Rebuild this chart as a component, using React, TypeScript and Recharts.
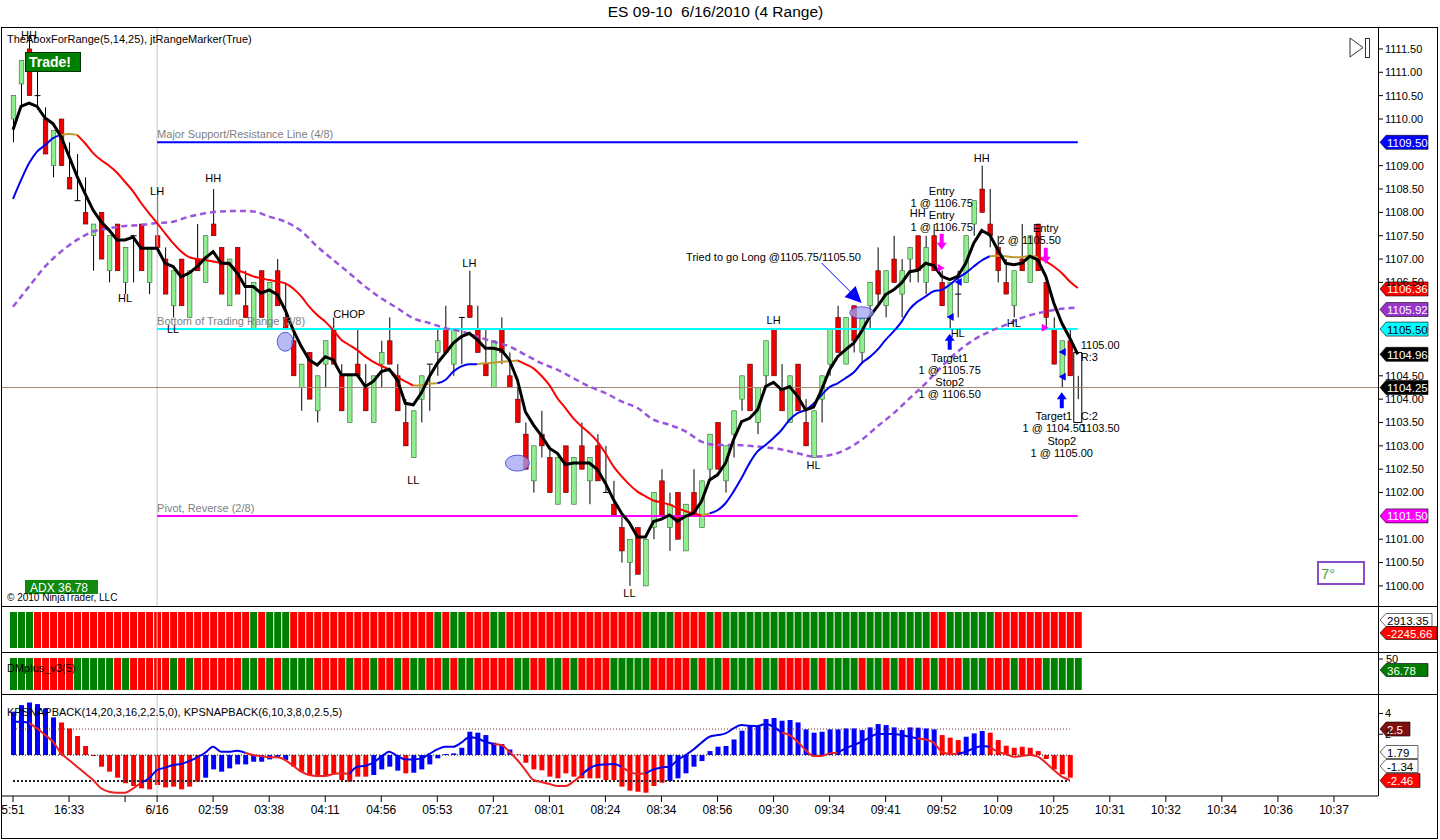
import React from "react";
import {
  ComposedChart,
  Bar,
  Line,
  XAxis,
  YAxis,
  ReferenceLine,
  ReferenceDot,
  ReferenceArea,
  Cell,
} from "recharts";

const FONT = '"Liberation Sans", Arial, sans-serif';
const CHART_W = 1438;
const FIRST_SLOT = -1;
const LAST_SLOT = 170;

// 4-range bars
const opens = [
  1110.0, 1110.75, 1111.5, 1110.5, 1110.0, 1109.0, 1110.0, 1108.75, 1108.25, 1108.0,
  1107.5, 1108.0, 1106.75, 1107.75, 1106.5, 1107.5, 1107.75, 1106.5, 1107.5, 1107.0,
  1106.0, 1107.0, 1105.75, 1107.0, 1106.5, 1107.75, 1107.25, 1106.0, 1107.25, 1106.0,
  1105.5, 1106.75, 1105.5, 1106.75, 1105.75, 1105.25, 1104.25, 1105.0, 1103.75, 1104.75,
  1105.5, 1104.5, 1103.5, 1104.75, 1104.25, 1103.5, 1104.75, 1105.25, 1104.5, 1103.5,
  1102.75, 1104.0, 1104.75, 1105.0, 1105.5, 1104.75, 1105.75, 1106.0, 1105.5, 1104.75,
  1104.25, 1105.5, 1104.5, 1104.0, 1103.25, 1102.25, 1103.25, 1102.75, 1101.75, 1103.0,
  1101.75, 1103.0, 1102.25, 1103.0, 1102.0, 1101.75, 1101.25, 1100.5, 1101.25, 1100.0,
  1101.25, 1102.25, 1101.25, 1102.0, 1100.75, 1102.0, 1101.25, 1102.5, 1103.5, 1102.25,
  1103.25, 1104.0, 1104.75, 1103.5, 1104.5, 1105.5, 1104.25, 1103.5, 1104.75, 1103.5,
  1102.75, 1104.0, 1104.75, 1105.75, 1104.75, 1106.0, 1105.0, 1106.0, 1106.75, 1106.0,
  1107.0, 1106.25, 1107.0, 1107.5, 1106.5, 1107.5, 1106.5, 1105.75, 1106.25, 1106.5,
  1107.75, 1108.5, 1107.75, 1107.25, 1106.5, 1106.0, 1107.0, 1106.5, 1107.75, 1106.5,
  1105.5, 1104.5, 1105.25, 1104.25,
];
const highs = [
  1110.5, 1111.25, 1111.75, 1111.25, 1110.25, 1109.75, 1110.0, 1109.5, 1109.25, 1108.75,
  1107.75, 1108.0, 1107.5, 1107.75, 1107.25, 1107.5, 1107.75, 1107.25, 1108.5, 1107.25,
  1106.75, 1107.0, 1106.75, 1107.75, 1107.5, 1108.5, 1107.25, 1107.0, 1107.25, 1106.75,
  1106.5, 1106.75, 1106.5, 1107.0, 1106.5, 1105.5, 1104.75, 1105.0, 1104.5, 1105.25,
  1105.75, 1104.75, 1104.5, 1105.5, 1104.75, 1104.5, 1105.25, 1105.75, 1104.75, 1104.0,
  1103.75, 1104.5, 1104.75, 1105.5, 1106.0, 1105.5, 1105.75, 1106.75, 1106.0, 1105.5,
  1105.25, 1105.75, 1105.0, 1104.25, 1103.5, 1103.0, 1103.75, 1103.0, 1102.75, 1103.0,
  1102.75, 1103.5, 1102.75, 1103.25, 1103.0, 1102.25, 1101.5, 1101.0, 1101.25, 1101.0,
  1102.0, 1102.5, 1102.0, 1102.0, 1101.75, 1102.5, 1102.25, 1103.25, 1103.5, 1103.0,
  1103.75, 1104.5, 1104.75, 1104.25, 1105.25, 1105.5, 1104.75, 1104.5, 1104.75, 1104.0,
  1103.75, 1104.5, 1105.5, 1106.0, 1105.75, 1106.0, 1105.75, 1106.5, 1107.25, 1106.75,
  1107.5, 1107.0, 1107.25, 1107.5, 1107.5, 1107.75, 1106.75, 1106.5, 1106.75, 1107.5,
  1108.25, 1109.0, 1108.5, 1107.5, 1107.0, 1106.75, 1107.75, 1107.5, 1107.75, 1106.5,
  1105.75, 1105.25, 1105.5, 1104.5,
];
const lows = [
  1109.5, 1110.25, 1110.5, 1110.25, 1109.25, 1108.75, 1109.0, 1108.5, 1108.25, 1107.75,
  1106.75, 1107.0, 1106.5, 1106.75, 1106.25, 1106.5, 1106.75, 1106.25, 1107.25, 1106.25,
  1105.75, 1106.0, 1105.75, 1106.75, 1106.5, 1107.5, 1106.25, 1106.0, 1106.25, 1105.75,
  1105.5, 1105.75, 1105.5, 1106.0, 1105.5, 1104.5, 1103.75, 1104.0, 1103.5, 1104.25,
  1104.75, 1103.75, 1103.5, 1104.5, 1103.75, 1103.5, 1104.25, 1104.75, 1103.75, 1103.0,
  1102.75, 1103.5, 1103.75, 1104.5, 1105.0, 1104.5, 1104.75, 1105.75, 1105.0, 1104.5,
  1104.25, 1104.75, 1104.25, 1103.5, 1102.5, 1102.0, 1102.75, 1102.0, 1101.75, 1102.0,
  1101.75, 1102.5, 1101.75, 1102.25, 1102.0, 1101.5, 1100.5, 1100.0, 1100.25, 1100.0,
  1101.0, 1101.5, 1100.75, 1101.0, 1100.75, 1101.5, 1101.25, 1102.25, 1102.5, 1102.0,
  1102.75, 1103.75, 1103.75, 1103.25, 1104.25, 1104.5, 1103.75, 1103.5, 1103.75, 1103.0,
  1102.75, 1103.5, 1104.5, 1105.0, 1104.75, 1105.0, 1104.75, 1105.5, 1106.0, 1105.75,
  1106.5, 1105.75, 1106.5, 1106.5, 1106.25, 1106.75, 1106.0, 1105.5, 1105.75, 1106.5,
  1107.5, 1108.0, 1107.25, 1106.5, 1106.25, 1105.75, 1106.75, 1106.5, 1106.75, 1105.5,
  1104.75, 1104.25, 1104.5, 1104.0,
];
const closes = [
  1110.5, 1111.25, 1110.5, 1110.5, 1109.25, 1109.75, 1109.0, 1108.5, 1108.25, 1107.75,
  1107.75, 1107.0, 1107.5, 1106.75, 1107.25, 1107.5, 1106.75, 1107.25, 1107.25, 1106.25,
  1106.75, 1106.0, 1106.75, 1106.75, 1107.5, 1107.5, 1106.25, 1107.0, 1106.25, 1105.75,
  1106.5, 1105.75, 1106.5, 1106.0, 1105.5, 1104.5, 1104.75, 1104.0, 1104.5, 1105.25,
  1104.75, 1103.75, 1104.5, 1104.5, 1103.75, 1104.5, 1105.0, 1104.75, 1103.75, 1103.0,
  1103.75, 1104.5, 1104.75, 1105.25, 1105.0, 1105.5, 1105.75, 1105.75, 1105.0, 1104.5,
  1105.25, 1105.0, 1104.25, 1103.5, 1102.5, 1103.0, 1103.0, 1102.0, 1102.75, 1102.0,
  1102.75, 1102.5, 1102.75, 1102.25, 1102.0, 1101.5, 1100.75, 1101.0, 1100.25, 1101.0,
  1102.0, 1101.5, 1101.75, 1101.0, 1101.75, 1101.5, 1102.25, 1103.25, 1102.5, 1103.0,
  1103.75, 1104.5, 1103.75, 1104.25, 1105.25, 1104.5, 1103.75, 1104.5, 1103.75, 1103.0,
  1103.75, 1104.5, 1105.5, 1105.0, 1105.75, 1105.25, 1105.75, 1106.5, 1106.25, 1106.75,
  1106.5, 1106.75, 1107.25, 1106.75, 1107.25, 1106.75, 1106.0, 1106.5, 1106.25, 1107.5,
  1108.25, 1108.0, 1107.5, 1106.75, 1106.25, 1106.75, 1106.75, 1107.5, 1106.75, 1105.75,
  1104.75, 1105.25, 1104.5, 1104.25,
];

// TheAboxForRange lines (5 = black, 14 = colored, 25 = purple dashed)
const fastLine = [
  1109.77, 1110.27, 1110.34, 1110.27, 1110.02, 1109.9, 1109.62, 1109.2, 1108.77, 1108.4,
  1108.05, 1107.8, 1107.62, 1107.41, 1107.41, 1107.47, 1107.23, 1107.23, 1107.23, 1106.91,
  1106.84, 1106.62, 1106.7, 1106.84, 1107.02, 1107.16, 1106.91, 1106.91, 1106.7, 1106.41,
  1106.41, 1106.27, 1106.34, 1106.24, 1105.91, 1105.48, 1105.13, 1104.84, 1104.73, 1104.91,
  1104.84, 1104.52, 1104.52, 1104.52, 1104.27, 1104.38, 1104.59, 1104.64, 1104.41, 1103.91,
  1103.88, 1104.13, 1104.48, 1104.77, 1104.98, 1105.2, 1105.34, 1105.41, 1105.27, 1105.09,
  1105.09, 1105.05, 1104.84, 1104.41, 1103.73, 1103.45, 1103.22, 1102.95, 1102.84, 1102.6,
  1102.63, 1102.63, 1102.63, 1102.49, 1102.2, 1101.85, 1101.56, 1101.35, 1101.05, 1101.05,
  1101.38, 1101.43, 1101.52, 1101.38, 1101.49, 1101.56, 1101.81, 1102.27, 1102.38, 1102.63,
  1103.13, 1103.52, 1103.59, 1103.77, 1104.27, 1104.36, 1104.2, 1104.27, 1104.06, 1103.77,
  1103.83, 1104.2, 1104.63, 1104.91, 1105.06, 1105.2, 1105.45, 1105.77, 1105.99, 1106.24,
  1106.34, 1106.49, 1106.73, 1106.76, 1106.91, 1106.86, 1106.63, 1106.56, 1106.63, 1106.91,
  1107.34, 1107.61, 1107.52, 1107.2, 1106.91, 1106.88, 1106.91, 1107.06, 1106.98, 1106.63,
  1106.06, 1105.63, 1105.31, 1104.96,
];
const midLine = [
  1108.29, 1108.69, 1109.05, 1109.3, 1109.44, 1109.59, 1109.66, 1109.68, 1109.66, 1109.48,
  1109.27, 1109.12, 1109.0, 1108.85, 1108.65, 1108.45, 1108.2, 1107.98, 1107.77, 1107.55,
  1107.34, 1107.16, 1107.04, 1107.0, 1106.98, 1106.95, 1106.91, 1106.88, 1106.77, 1106.7,
  1106.63, 1106.59, 1106.55, 1106.52, 1106.48, 1106.37, 1106.2, 1105.98, 1105.8, 1105.66,
  1105.48, 1105.27, 1105.16, 1105.05, 1104.91, 1104.8, 1104.71, 1104.63, 1104.48, 1104.38,
  1104.29, 1104.3, 1104.33, 1104.34, 1104.41, 1104.59, 1104.7, 1104.75, 1104.75, 1104.77,
  1104.78, 1104.8, 1104.81, 1104.83, 1104.75, 1104.66, 1104.5, 1104.3, 1104.02, 1103.81,
  1103.59, 1103.42, 1103.27, 1103.09, 1102.84, 1102.56, 1102.35, 1102.17, 1102.02, 1101.92,
  1101.83, 1101.79, 1101.74, 1101.67, 1101.6, 1101.55, 1101.51, 1101.55, 1101.62, 1101.77,
  1102.02, 1102.31, 1102.63, 1102.88, 1103.02, 1103.17, 1103.34, 1103.56, 1103.7, 1103.77,
  1103.9, 1104.09, 1104.26, 1104.34, 1104.45, 1104.57, 1104.77, 1104.9, 1105.06, 1105.27,
  1105.45, 1105.66, 1105.93, 1106.09, 1106.2, 1106.31, 1106.34, 1106.45, 1106.59, 1106.7,
  1106.84, 1106.97, 1107.06, 1107.07, 1107.06, 1107.04, 1107.04, 1107.07, 1107.04, 1106.95,
  1106.84, 1106.7, 1106.52, 1106.38,
];
// colour of the 14 line: [first bar of segment, colour]
const midRuns: [number, string][] = [
  [0, "b"], [6, "o"], [8, "r"], [50, "o"], [53, "b"], [58, "o"], [63, "r"], [86, "o"], [87, "b"], [122, "o"], [128, "r"],
];
const slowLine: [number, number][] = [
  [0, 1105.98], [2, 1106.41], [4, 1106.84], [6, 1107.16], [8, 1107.41], [10, 1107.59], [12, 1107.66],
  [14, 1107.71], [16, 1107.73], [18, 1107.77], [20, 1107.8], [22, 1107.91], [24, 1107.98], [26, 1108.02],
  [28, 1108.03], [30, 1108.02], [32, 1107.91], [34, 1107.8], [36, 1107.6], [38, 1107.27], [40, 1106.98],
  [42, 1106.7], [44, 1106.41], [46, 1106.16], [48, 1105.95], [50, 1105.73], [52, 1105.63], [54, 1105.52],
  [56, 1105.45], [58, 1105.34], [60, 1105.23], [62, 1105.13], [64, 1104.95], [66, 1104.77], [68, 1104.63],
  [70, 1104.45], [72, 1104.27], [74, 1104.13], [76, 1103.95], [78, 1103.81], [80, 1103.56], [82, 1103.45],
  [84, 1103.31], [86, 1103.09], [88, 1103.02], [90, 1103.02], [92, 1103.0], [94, 1102.97], [96, 1102.92],
  [98, 1102.84], [100, 1102.77], [102, 1102.8], [104, 1102.92], [106, 1103.13], [108, 1103.42], [110, 1103.7],
  [112, 1104.02], [114, 1104.34], [116, 1104.7], [118, 1105.02], [120, 1105.27], [122, 1105.45], [124, 1105.59],
  [126, 1105.74], [128, 1105.84], [130, 1105.91], [132, 1105.95], [133, 1105.96],
];

// colour strips: [first bar, colour]
const stripTopRuns: [number, string][] = [
  [0, "g"], [3, "r"], [30, "g"], [31, "r"], [32, "g"], [35, "r"], [53, "g"], [54, "r"], [55, "g"], [57, "r"],
  [60, "g"], [62, "r"], [79, "g"], [83, "r"], [87, "g"], [88, "r"], [89, "g"], [115, "r"], [117, "g"], [123, "r"],
];
const stripMidRuns: [number, string][] = [
  [0, "g"], [3, "r"], [8, "g"], [13, "r"], [14, "g"], [15, "r"], [20, "g"], [21, "r"], [22, "g"], [23, "r"],
  [29, "g"], [31, "r"], [32, "g"], [33, "r"], [34, "g"], [38, "r"], [42, "g"], [43, "r"], [45, "g"], [46, "r"],
  [48, "g"], [49, "r"], [50, "g"], [52, "r"], [54, "g"], [55, "r"], [56, "g"], [58, "r"], [63, "g"], [65, "r"],
  [67, "g"], [69, "r"], [70, "g"], [71, "r"], [75, "g"], [80, "r"], [85, "g"], [86, "r"], [87, "g"], [89, "r"],
  [90, "g"], [93, "r"], [94, "g"], [96, "r"], [100, "g"], [101, "r"], [102, "g"], [106, "r"], [107, "g"], [109, "r"],
  [110, "g"], [111, "r"], [113, "g"], [114, "r"], [115, "g"], [116, "r"], [119, "g"], [122, "r"], [125, "g"], [126, "r"],
  [129, "g"],
];

// KPSNAPBACK histogram and line
const histValues = [
  4.17, 4.8, 5.06, 4.9, 4.49, 3.62, 3.14, 2.56, 1.83, 0.87,
  -0.1, -1.12, -1.6, -2.18, -2.72, -2.98, -3.2, -3.3, -2.88, -3.11,
  -3.04, -3.3, -3.04, -2.56, -2.18, -1.38, -1.6, -1.28, -0.9, -0.9,
  -0.64, -0.64, -0.42, -0.26, -0.48, -1.12, -1.6, -1.92, -2.08, -1.92,
  -1.76, -2.4, -2.56, -2.08, -2.08, -1.92, -1.38, -1.12, -1.5, -1.76,
  -1.7, -1.38, -0.9, -0.32, 0.1, 0.16, 0.7, 2.24, 2.15, 1.92,
  1.19, 1.06, 0.54, 0.06, -0.74, -1.38, -1.47, -2.08, -2.24, -1.76,
  -2.08, -2.24, -2.24, -2.24, -2.4, -2.4, -3.04, -3.43, -3.53, -3.62,
  -2.98, -2.66, -2.5, -2.24, -1.76, -1.12, -0.58, 0.38, 0.8, 0.87,
  1.5, 2.34, 2.79, 2.79, 3.46, 3.56, 3.3, 3.37, 3.14, 2.47,
  2.15, 2.24, 2.47, 2.47, 2.56, 2.56, 2.4, 2.66, 2.98, 2.88,
  2.66, 2.4, 2.66, 2.63, 2.56, 2.47, 1.92, 1.67, 1.44, 1.76,
  2.08, 2.31, 2.15, 1.44, 0.9, 0.7, 0.8, 0.7, 0.38, -0.38,
  -1.38, -1.86, -2.18,
];
const histRuns: [number, string][] = [
  [0, "b"], [6, "r"], [24, "b"], [35, "r"], [45, "b"], [49, "r"], [50, "b"], [63, "r"], [82, "b"], [116, "r"], [119, "b"], [122, "r"],
];
const oscLine = [
  3.2, 3.2, 3.1, 2.56, 1.92, 1.28, 0.16, -0.48, -1.12, -1.76,
  -2.4, -3.2, -3.53, -3.62, -3.62, -3.2, -2.66, -2.24, -1.44, -1.22,
  -0.96, -0.87, -0.58, -0.22, 0.22, 0.8, 0.32, 0.32, 0.42, 0.22,
  0.0, -0.1, -0.22, -0.22, -0.48, -1.03, -1.6, -1.92, -2.02, -2.02,
  -1.83, -1.76, -1.83, -1.12, -1.03, -0.74, -0.16, 0.32, -0.1, -0.42,
  -0.42, -0.32, 0.1, 0.54, 0.8, 0.8, 1.19, 1.7, 1.6, 1.28,
  1.06, 0.96, 0.32, -0.48, -1.44, -2.4, -2.6, -2.79, -2.98, -2.98,
  -2.56, -1.92, -1.28, -0.96, -0.9, -0.87, -1.12, -1.6, -1.83, -1.76,
  -1.38, -1.19, -1.12, -0.48, 0.0, 0.54, 1.19, 1.76, 1.92, 2.08,
  2.56, 2.88, 2.82, 2.79, 2.98, 2.72, 2.15, 1.92, 1.28, 0.48,
  -0.1, -0.1, 0.16, 0.22, 0.64, 0.96, 1.28, 1.7, 2.02, 2.02,
  2.02, 1.92, 1.76, 1.6, 1.5, 1.19, 0.32, 0.1, 0.1, 0.32,
  0.64, 0.87, 0.8, 0.32, 0.1, -0.16, -0.1, 0.0, -0.16, -0.74,
  -1.44, -2.08, -2.4,
];
const oscRuns: [number, string][] = [
  [0, "b"], [2, "r"], [16, "b"], [29, "r"], [42, "b"], [60, "r"], [71, "b"], [76, "r"], [79, "b"], [96, "r"],
  [103, "b"], [113, "r"], [118, "b"], [122, "r"],
];

const timeTicks = [0, 7, 14, 18, 25, 32, 39, 46, 53, 60, 67, 74, 81, 88, 95, 102, 109, 116, 123, 130, 137, 144, 151, 158, 165];
const timeLabels = [
  "5:51", "16:33", "", "6/16", "02:59", "03:38", "04:11", "04:56", "05:53", "07:21", "08:01", "08:24", "08:34",
  "08:56", "09:30", "09:34", "09:41", "09:52", "10:09", "10:25", "10:31", "10:32", "10:34", "10:36", "10:37",
];
// price ticks whose labels are not hidden by the value boxes
const priceTicks = [
  1100.0, 1100.5, 1101.0, 1102.0, 1102.5, 1103.0, 1103.5, 1104.0, 1104.5,
  1106.5, 1107.0, 1107.5, 1108.0, 1108.5, 1109.0, 1110.0, 1110.5, 1111.0, 1111.5,
];
const priceBoxes = [
  { value: 1109.5, text: "1109.50", bg: "#0000ff", fg: "#ffffff" },
  { value: 1106.36, text: "1106.36", bg: "#ff0000", fg: "#ffffff" },
  { value: 1105.92, text: "1105.92", bg: "#9933cc", fg: "#ffffff" },
  { value: 1105.5, text: "1105.50", bg: "#00ffff", fg: "#000000" },
  { value: 1104.96, text: "1104.96", bg: "#000000", fg: "#ffffff" },
  { value: 1104.25, text: "1104.25", bg: "#000000", fg: "#ffffff" },
  { value: 1101.5, text: "1101.50", bg: "#ff00ff", fg: "#ffffff" },
];
const levelLines = [
  { value: 1109.5, color: "#0000ff", text: "Major Support/Resistance Line (4/8)" },
  { value: 1105.5, color: "#00ffff", text: "Bottom of Trading Range (3/8)" },
  { value: 1101.5, color: "#ff00ff", text: "Pivot, Reverse (2/8)" },
];
const swingLabels = [
  { bar: 2, price: 1111.8, text: "HH" },
  { bar: 18, price: 1108.46, text: "LH" },
  { bar: 25, price: 1108.74, text: "HH" },
  { bar: 14, price: 1106.17, text: "HL" },
  { bar: 20, price: 1105.5, text: "LL" },
  { bar: 42, price: 1105.83, text: "CHOP" },
  { bar: 50, price: 1102.27, text: "LL" },
  { bar: 57, price: 1106.92, text: "LH" },
  { bar: 77, price: 1099.85, text: "LL" },
  { bar: 95, price: 1105.7, text: "LH" },
  { bar: 100, price: 1102.59, text: "HL" },
  { bar: 113, price: 1107.99, text: "HH" },
  { bar: 121, price: 1109.17, text: "HH" },
  { bar: 118, price: 1105.42, text: "HL" },
  { bar: 125, price: 1105.63, text: "HL" },
];
const tradeNotes = [
  { bar: 116, price: 1108.46, text: "Entry", anchor: "middle" },
  { bar: 116, price: 1108.2, text: "1 @ 1106.75", anchor: "middle" },
  { bar: 116, price: 1107.94, text: "Entry", anchor: "middle" },
  { bar: 116, price: 1107.69, text: "1 @ 1106.75", anchor: "middle" },
  { bar: 117, price: 1104.88, text: "Target1", anchor: "middle" },
  { bar: 117, price: 1104.63, text: "1 @ 1105.75", anchor: "middle" },
  { bar: 117, price: 1104.37, text: "Stop2", anchor: "middle" },
  { bar: 117, price: 1104.11, text: "1 @ 1106.50", anchor: "middle" },
  { bar: 129, price: 1107.67, text: "Entry", anchor: "middle" },
  { bar: 127, price: 1107.41, text: "2 @ 1105.50", anchor: "middle" },
  { bar: 133, price: 1105.16, text: "1105.00", anchor: "start" },
  { bar: 133, price: 1104.9, text: "R:3", anchor: "start" },
  { bar: 130, price: 1103.64, text: "Target1", anchor: "middle" },
  { bar: 130, price: 1103.38, text: "1 @ 1104.50", anchor: "middle" },
  { bar: 133, price: 1103.64, text: "C:2", anchor: "start" },
  { bar: 133, price: 1103.38, text: "1103.50", anchor: "start" },
  { bar: 131, price: 1103.11, text: "Stop2", anchor: "middle" },
  { bar: 131, price: 1102.85, text: "1 @ 1105.00", anchor: "middle" },
  { bar: 95, price: 1107.05, text: "Tried to go Long @1105.75/1105.50", anchor: "middle" },
];
const arrows = [
  { bar: 116, price: 1107.35, kind: "down" },
  { bar: 129, price: 1107.05, kind: "down" },
  { bar: 117, price: 1105.25, kind: "up" },
  { bar: 131, price: 1104.0, kind: "up" },
  { bar: 116, price: 1106.81, kind: "right" },
  { bar: 129, price: 1105.53, kind: "right" },
  { bar: 118, price: 1106.51, kind: "left" },
  { bar: 117, price: 1105.76, kind: "left" },
  { bar: 131, price: 1105.01, kind: "left" },
  { bar: 131, price: 1104.48, kind: "left" },
];
const ellipses = [
  { bar: 34, price: 1105.23, rx: 8, ry: 9.5 },
  { bar: 63, price: 1102.63, rx: 12, ry: 8 },
  { bar: 106, price: 1105.85, rx: 12, ry: 6 },
];

const colorAt = (runs: [number, string][], i: number) => {
  let c = runs[0][1];
  for (const [s, col] of runs) if (i >= s) c = col;
  return c;
};

const rows: any[] = [];
for (let idx = FIRST_SLOT; idx <= LAST_SLOT; idx++) {
  const row: any = { idx };
  const n = opens.length;
  if (idx >= 0 && idx < n) {
    row.open = opens[idx];
    row.high = highs[idx];
    row.low = lows[idx];
    row.close = closes[idx];
    row.fast = fastLine[idx];
    for (const c of ["r", "b", "o"]) {
      const before = idx > 0 && colorAt(midRuns, idx - 1) === c;
      const after = idx < n - 1 && colorAt(midRuns, idx) === c;
      row["mid_" + c] = before || after ? midLine[idx] : null;
    }
    row.strip = 1;
    row.topColor = colorAt(stripTopRuns, idx);
    row.midColor = colorAt(stripMidRuns, idx);
  }
  const m = histValues.length;
  if (idx >= 0 && idx < m) {
    row.hist = histValues[idx];
    row.histColor = colorAt(histRuns, idx);
    for (const c of ["r", "b"]) {
      const before = idx > 0 && colorAt(oscRuns, idx - 1) === c;
      const after = idx < m - 1 && colorAt(oscRuns, idx) === c;
      row["osc_" + c] = before || after ? oscLine[idx] : null;
    }
  }
  rows.push(row);
}
slowLine.forEach(([i, v]) => {
  rows[i - FIRST_SLOT].slow = v;
});

const Candle = (props: any) => {
  const { x, y, width, height, payload } = props;
  if (!payload || payload.high == null) return <g />;
  const cx = x + width / 2;
  const top = Math.min(y, y + height);
  const h = Math.abs(height);
  const k = h / (payload.high - payload.low);
  const py = (v: number) => top + (payload.high - v) * k;
  const yo = py(payload.open);
  const yc = py(payload.close);
  const bodyTop = Math.min(yo, yc);
  const bodyH = Math.abs(yo - yc);
  const up = payload.close > payload.open;
  return (
    <g>
      <line x1={cx} x2={cx} y1={top} y2={top + h} stroke="#000" strokeWidth={1} />
      {bodyH < 0.5 ? (
        <line x1={cx - 3} x2={cx + 3} y1={yo} y2={yo} stroke="#000" strokeWidth={1} />
      ) : (
        <rect
          x={cx - 2.3}
          y={bodyTop}
          width={4.6}
          height={bodyH}
          fill={up ? "#90ee90" : "#ee0000"}
          stroke={up ? "#2d6a2d" : "#5a0000"}
          strokeWidth={0.6}
        />
      )}
    </g>
  );
};

const AxisBox = (props: any) => {
  const { viewBox, text, bg, fg, w = 48 } = props;
  if (!viewBox) return null;
  const x = viewBox.x + viewBox.width + 2;
  const y = viewBox.y;
  return (
    <g>
      <polygon
        points={`${x},${y} ${x + 6},${y - 7} ${x + w},${y - 7} ${x + w},${y + 7} ${x + 6},${y + 7}`}
        fill={bg}
        stroke="#000"
        strokeWidth={0.6}
      />
      <text x={x + 7} y={y + 4.5} fontSize={11.5} fill={fg} fontFamily={FONT}>
        {text}
      </text>
    </g>
  );
};

const ArrowMark = (kind: string) => (p: any) => {
  const { cx, cy } = p;
  if (kind === "down")
    return (
      <polygon
        points={`${cx - 2},${cy - 9} ${cx + 2},${cy - 9} ${cx + 2},${cy} ${cx + 5},${cy} ${cx},${cy + 7} ${cx - 5},${cy} ${cx - 2},${cy}`}
        fill="#ff00ff"
      />
    );
  if (kind === "up")
    return (
      <polygon
        points={`${cx - 2},${cy + 9} ${cx + 2},${cy + 9} ${cx + 2},${cy} ${cx + 5},${cy} ${cx},${cy - 7} ${cx - 5},${cy} ${cx - 2},${cy}`}
        fill="#0000ff"
      />
    );
  if (kind === "right")
    return <polygon points={`${cx - 4},${cy - 4} ${cx + 3},${cy} ${cx - 4},${cy + 4}`} fill="#ff00ff" />;
  return <polygon points={`${cx + 4},${cy - 4} ${cx - 3},${cy} ${cx + 4},${cy + 4}`} fill="#0000ff" />;
};

const TimeTick = (props: any) => {
  const { x, y, payload } = props;
  const k = timeTicks.indexOf(payload.value);
  return (
    <text x={x} y={y + 10} textAnchor="middle" fontSize={12} fill="#000" fontFamily={FONT}>
      {k >= 0 ? timeLabels[k] : ""}
    </text>
  );
};

const PricePanel = () => (
  <ComposedChart width={CHART_W} height={579} data={rows} margin={{ top: 0, right: 0, bottom: 0, left: 1 }}>
    <XAxis dataKey="idx" type="category" hide />
    <YAxis
      orientation="right"
      width={60}
      domain={[1099.57, 1111.97]}
      allowDataOverflow
      ticks={priceTicks}
      interval={0}
      tickFormatter={(v: number) => v.toFixed(2)}
      tick={{ fontSize: 11, fill: "#000", fontFamily: FONT }}
      tickLine={{ stroke: "#000" }}
      tickSize={5}
      axisLine={false}
    />
    <ReferenceLine x={18} stroke="#c8c8c8" strokeWidth={1} />
    <ReferenceLine y={1104.25} stroke="#a08a7a" strokeWidth={1} />
    {levelLines.map((l) => (
      <ReferenceLine
        key={"lv" + l.value}
        segment={[{ x: 18, y: l.value }, { x: 133, y: l.value }]}
        stroke={l.color}
        strokeWidth={2}
      />
    ))}
    {levelLines.map((l) => (
      <ReferenceDot
        key={"lt" + l.value}
        x={18}
        y={l.value}
        r={0}
        shape={(p: any) => (
          <text x={p.cx} y={p.cy - 4} fontSize={11} fill="#808080" fontFamily={FONT}>
            {l.text}
          </text>
        )}
      />
    ))}
    <Bar
      dataKey={(d: any) => (d.high == null ? undefined : [d.low, d.high])}
      shape={<Candle />}
      barSize={7}
      isAnimationActive={false}
    />
    <ReferenceArea x1={133} x2={133} y1={1103.5} y2={1105} fill="none" stroke="#000" strokeWidth={1} />
    <Line dataKey="slow" stroke="#9955dd" strokeWidth={2.5} strokeDasharray="6 4" dot={false} connectNulls type="monotone" isAnimationActive={false} />
    <Line dataKey="mid_r" stroke="#ff0000" strokeWidth={2} dot={false} type="monotone" isAnimationActive={false} />
    <Line dataKey="mid_b" stroke="#0000ee" strokeWidth={2} dot={false} type="monotone" isAnimationActive={false} />
    <Line dataKey="mid_o" stroke="#c09a30" strokeWidth={2} dot={false} type="monotone" isAnimationActive={false} />
    <Line dataKey="fast" stroke="#000000" strokeWidth={3} dot={false} type="linear" isAnimationActive={false} />
    {ellipses.map((e, i) => (
      <ReferenceDot
        key={"el" + i}
        x={e.bar}
        y={e.price}
        r={0}
        shape={(p: any) => (
          <ellipse cx={p.cx} cy={p.cy} rx={e.rx} ry={e.ry} fill="#9fa3f0" fillOpacity={0.75} stroke="#3a3ad0" strokeWidth={0.8} />
        )}
      />
    ))}
    {swingLabels.map((s, i) => (
      <ReferenceDot
        key={"sw" + i}
        x={s.bar}
        y={s.price}
        r={0}
        shape={(p: any) => (
          <text x={p.cx} y={p.cy + 4} textAnchor="middle" fontSize={11} fill="#000" fontFamily={FONT}>
            {s.text}
          </text>
        )}
      />
    ))}
    {tradeNotes.map((s, i) => (
      <ReferenceDot
        key={"tn" + i}
        x={s.bar}
        y={s.price}
        r={0}
        shape={(p: any) => (
          <text
            x={s.anchor === "start" ? p.cx + 3 : p.cx}
            y={p.cy + 4}
            textAnchor={s.anchor as any}
            fontSize={11}
            fill="#000"
            fontFamily={FONT}
          >
            {s.text}
          </text>
        )}
      />
    ))}
    {arrows.map((a, i) => (
      <ReferenceDot key={"ar" + i} x={a.bar} y={a.price} r={0} shape={ArrowMark(a.kind)} />
    ))}
    <ReferenceDot
      x={106}
      y={1106.06}
      r={0}
      shape={(p: any) => (
        <g>
          <line x1={p.cx - 40} y1={p.cy - 40} x2={p.cx - 10} y2={p.cy - 10} stroke="#0000ff" strokeWidth={1} />
          <polygon points={`${p.cx},${p.cy} ${p.cx - 17},${p.cy - 6} ${p.cx - 6},${p.cy - 17}`} fill="#0000ff" />
        </g>
      )}
    />
    {priceBoxes.map((b) => (
      <ReferenceLine
        key={"pb" + b.value}
        y={b.value}
        stroke="none"
        label={<AxisBox text={b.text} bg={b.bg} fg={b.fg} />}
      />
    ))}
  </ComposedChart>
);

const StripPanel = ({ height, colorKey }: { height: number; colorKey: string }) => (
  <ComposedChart width={CHART_W} height={height} data={rows} margin={{ top: 6, right: 0, bottom: 4, left: 1 }}>
    <XAxis dataKey="idx" type="category" hide />
    <YAxis orientation="right" width={60} domain={[0, 1]} tick={false} tickLine={false} axisLine={false} />
    <ReferenceLine x={18} stroke="#c8c8c8" strokeWidth={1} />
    <Bar dataKey="strip" barSize={7} isAnimationActive={false}>
      {rows.map((r) => (
        <Cell key={"c" + r.idx} fill={r[colorKey] === "g" ? "#008000" : "#ff0000"} />
      ))}
    </Bar>
  </ComposedChart>
);

const OscPanel = () => (
  <ComposedChart width={CHART_W} height={145} data={rows} margin={{ top: 0, right: 0, bottom: 0, left: 1 }}>
    <XAxis
      dataKey="idx"
      type="category"
      height={43}
      ticks={timeTicks}
      interval={0}
      tick={<TimeTick />}
      tickSize={6}
      tickLine={{ stroke: "#000" }}
      axisLine={{ stroke: "#000" }}
    />
    <YAxis
      orientation="right"
      width={60}
      domain={[-3.94, 5.87]}
      allowDataOverflow
      ticks={[2, 4]}
      interval={0}
      tick={{ fontSize: 11, fill: "#000", fontFamily: FONT }}
      tickLine={{ stroke: "#000" }}
      tickSize={5}
      axisLine={false}
    />
    <ReferenceLine x={18} stroke="#c8c8c8" strokeWidth={1} />
    <ReferenceLine segment={[{ x: 0, y: 2.5 }, { x: 132, y: 2.5 }]} stroke="#6a2a2a" strokeDasharray="1 2" strokeWidth={1} />
    <ReferenceLine segment={[{ x: 0, y: 0 }, { x: 132, y: 0 }]} stroke="#000" strokeDasharray="1 2" strokeWidth={1} />
    <ReferenceLine segment={[{ x: 0, y: -2.5 }, { x: 132, y: -2.5 }]} stroke="#222" strokeDasharray="2 2" strokeWidth={2} />
    <Bar dataKey="hist" barSize={5} isAnimationActive={false}>
      {rows.map((r) => (
        <Cell key={"h" + r.idx} fill={r.histColor === "b" ? "#0000ff" : "#ff0000"} />
      ))}
    </Bar>
    <Line dataKey="osc_r" stroke="#ee2020" strokeWidth={2} dot={false} type="monotone" isAnimationActive={false} />
    <Line dataKey="osc_b" stroke="#0000ee" strokeWidth={2} dot={false} type="monotone" isAnimationActive={false} />
    <ReferenceLine y={2.5} stroke="none" label={<AxisBox text="2.5" bg="#801010" fg="#ffffff" w={30} />} />
    <ReferenceLine y={-2.46} stroke="none" label={<AxisBox text="-2.46" bg="#ff0000" fg="#ffffff" w={40} />} />
  </ComposedChart>
);

const SideBox = ({ x, y, w, text, bg, fg }: any) => (
  <g>
    <polygon
      points={`${x},${y} ${x + 6},${y - 6.5} ${x + w},${y - 6.5} ${x + w},${y + 6.5} ${x + 6},${y + 6.5}`}
      fill={bg}
      stroke="#000"
      strokeWidth={0.6}
    />
    <text x={x + 7} y={y + 4.5} fontSize={11.5} fill={fg} fontFamily={FONT}>
      {text}
    </text>
  </g>
);

const Overlay = () => (
  <svg width={1440} height={840} style={{ position: "absolute", left: 0, top: 0, pointerEvents: "none" }}>
    <g stroke="#000" strokeWidth={1} fill="none">
      <rect x={1.5} y={27.5} width={1436} height={811} />
      <line x1={1} x2={1438} y1={606.5} y2={606.5} />
      <line x1={1} x2={1438} y1={652.5} y2={652.5} />
      <line x1={1} x2={1438} y1={694.5} y2={694.5} />
      <line x1={1378.5} x2={1378.5} y1={27} y2={796} />
    </g>
    <text x={7} y={43} fontSize={11} fill="#000" fontFamily={FONT}>
      TheAboxForRange(5,14,25), jtRangeMarker(True)
    </text>
    <rect x={25.5} y={52.5} width={55} height={19} fill="#008000" stroke="#003300" />
    <text x={29} y={67} fontSize={14} fontWeight="bold" fill="#ffffff" fontFamily={FONT}>
      Trade!
    </text>
    <rect x={25} y={580} width={73} height={14} fill="#0f8a0f" />
    <text x={30} y={591.5} fontSize={12} fill="#ffffff" fontFamily={FONT}>
      ADX 36.78
    </text>
    <text x={7} y={601} fontSize={10} fill="#000" fontFamily={FONT}>
      © 2010 NinjaTrader, LLC
    </text>
    <rect x={1318} y={562} width={46} height={22} fill="none" stroke="#8a4cc8" strokeWidth={2} />
    <text x={1321} y={579} fontSize={15} fill="#50a050" fontFamily={FONT}>
      7°
    </text>
    <polygon points="1350,38 1363,47.5 1350,57" fill="none" stroke="#333" />
    <rect x={1365.5} y={38.5} width={4} height={19} fill="none" stroke="#333" />
    <text x={7} y={672} fontSize={11} fill="#000" fontFamily={FONT}>
      DMplus_v3(5)
    </text>
    <text x={7} y={716} fontSize={11} fill="#000" fontFamily={FONT}>
      KPSNAPBACK(14,20,3,16,2,2.5,0), KPSNAPBACK(6,10,3,8,0,2.5,5)
    </text>
    <SideBox x={1380} y={620} w={52} text="2913.35" bg="#ffffff" fg="#000000" />
    <SideBox x={1380} y={633} w={57} text="-2245.66" bg="#ff0000" fg="#ffffff" />
    <line x1={1378} x2={1383} y1={659} y2={659} stroke="#000" />
    <text x={1386} y={663} fontSize={11} fill="#000" fontFamily={FONT}>
      50
    </text>
    <SideBox x={1380} y={670} w={48} text="36.78" bg="#007a00" fg="#ffffff" />
    <SideBox x={1380} y={752} w={38} text="1.79" bg="#ffffff" fg="#000000" />
    <SideBox x={1380} y={766} w={38} text="-1.34" bg="#ffffff" fg="#000000" />
  </svg>
);

export default function App() {
  return (
    <div
      style={{
        position: "absolute",
        left: 0,
        top: 0,
        width: 1440,
        height: 840,
        background: "#ffffff",
        fontFamily: FONT,
        overflow: "hidden",
      }}
    >
      <div style={{ position: "absolute", left: 0, top: 3, width: 1431, textAlign: "center", fontSize: 15.5, whiteSpace: "pre" }}>
        {"ES 09-10  6/16/2010 (4 Range)"}
      </div>
      <div style={{ position: "absolute", left: 0, top: 27 }}>
        <PricePanel />
      </div>
      <div style={{ position: "absolute", left: 0, top: 606 }}>
        <StripPanel height={46} colorKey="topColor" />
      </div>
      <div style={{ position: "absolute", left: 0, top: 652 }}>
        <StripPanel height={42} colorKey="midColor" />
      </div>
      <div style={{ position: "absolute", left: 0, top: 694 }}>
        <OscPanel />
      </div>
      <Overlay />
    </div>
  );
}
